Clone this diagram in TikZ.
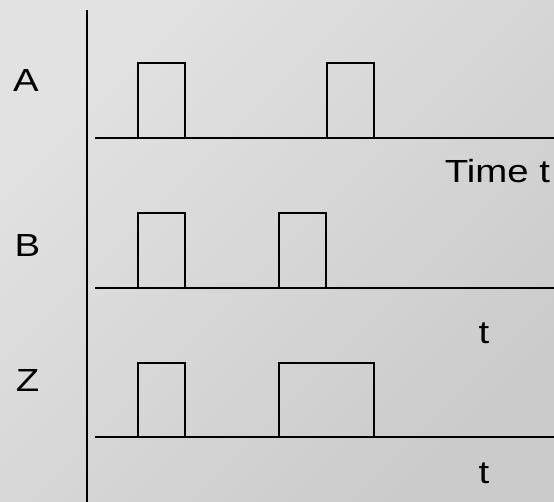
\documentclass[tikz,border=0pt]{standalone}
\usepackage{fontspec}
\setmainfont{Liberation Sans}
\definecolor{bglight}{HTML}{E2E2E2}
\definecolor{bgdark}{HTML}{CBCBCB}
\begin{document}
\begin{tikzpicture}[x=1pt,y=-1pt,
  sig/.style={inner sep=0pt, font=\fontsize{32}{32}\selectfont, xscale=1.2},
  pulse/.style={line width=2pt, line join=miter},
  timeline/.style={line width=1.5pt},
  axis/.style={line width=2pt}]
% background
\shade[top color=bglight, bottom color=bgdark, shading angle=45] (0,0) rectangle (554,502);
\useasboundingbox (0,0) rectangle (554,502);

% vertical axis
\draw[axis] (87,10) -- (87,502);

% signal A
\draw[timeline] (95,138) -- (554,138);
\draw[pulse] (138,137) -- (138,63) -- (185,63) -- (185,137);
\draw[pulse] (327,137) -- (327,63) -- (374,63) -- (374,137);

% signal B
\draw[timeline] (95,288) -- (554,288);
\draw[pulse] (138,287) -- (138,213) -- (185,213) -- (185,287);
\draw[pulse] (279,287) -- (279,213) -- (326,213) -- (326,287);

% output Z
\draw[timeline] (95,437) -- (554,437);
\draw[pulse] (138,436) -- (138,363) -- (185,363) -- (185,436);
\draw[pulse] (279,436) -- (279,363) -- (374,363) -- (374,436);

% labels
\node[sig] (labA) at (26,80) {A};
\node[sig] (labB) at (27.5,245) {B};
\node[sig] (labZ) at (27.5,380) {Z};
\node[sig] (timeA) at (497.5,171) {Time t};
\node[sig] (timeB) at (484,333) {t};
\node[sig] (timeZ) at (484,473) {t};
\end{tikzpicture}
\end{document}
